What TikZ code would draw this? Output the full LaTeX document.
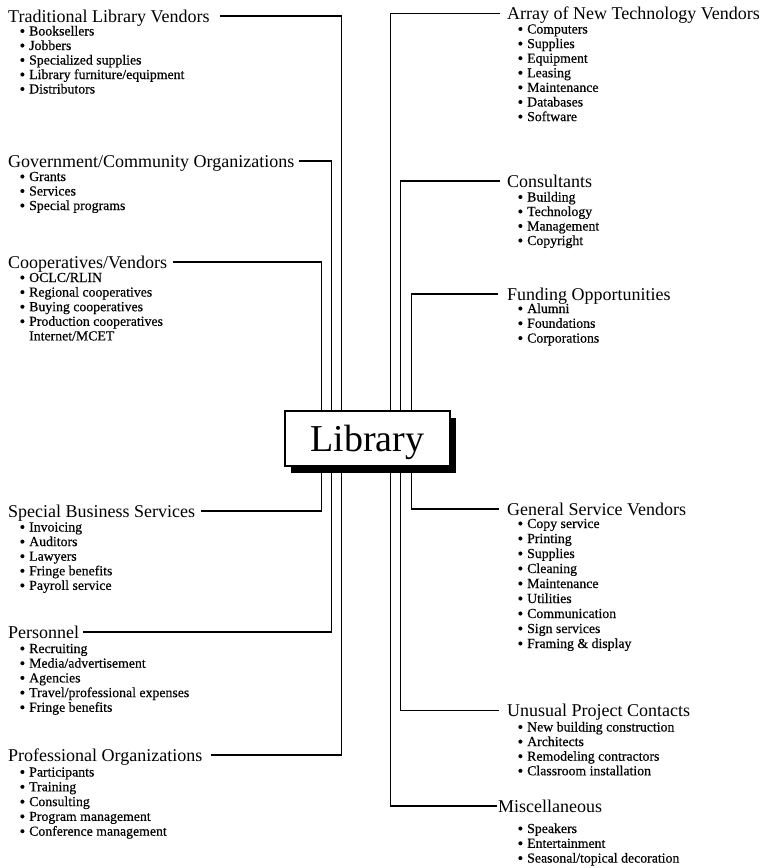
\documentclass[tikz,border=0pt]{standalone}
\usepackage{fontspec}
\setmainfont{Liberation Serif}
\newfontfamily\entryfont[FakeBold=0.45]{Liberation Serif}
\usetikzlibrary{shadows}

\newcommand\dotmark{\raisebox{-0.8pt}{\fontsize{16}{16}\selectfont\textbullet}}

\tikzset{
  cattitle/.style={font=\fontsize{18}{20}\selectfont, inner sep=0pt,
    text height=12pt, text depth=0pt, anchor=base west},
  entry/.style={font=\entryfont\fontsize{13.8}{15}\selectfont, inner sep=0pt, anchor=base west,
    execute at begin node={\llap{\dotmark\hskip4pt}}},
  plainentry/.style={font=\entryfont\fontsize{13.8}{15}\selectfont, inner sep=0pt, anchor=base west},
  link/.style={line width=1.1pt},
  hub/.style={draw, line width=1.2pt, fill=white, minimum width=165pt, minimum height=55pt,
    inner sep=0pt, text height=26pt, text depth=0pt, font=\fontsize{38}{40}\selectfont,
    drop shadow={shadow xshift=6pt, shadow yshift=-7pt, fill=black, opacity=1}}
}

% bulleted entries: name prefix, x, first baseline, line step, list
\newcommand\entries[5]{%
  \foreach \txt [count=\k] in {#5}
    \node[entry] (#1-\k) at (#2, {#3+(\k-1)*#4}) {\txt};
}

\begin{document}
\begin{tikzpicture}[x=1pt, y=-1pt]
\useasboundingbox (0,0) rectangle (777,868);

% central box
\node[hub] (lib) at (367.5,438.5) {Library};

% left-hand groups
\node[cattitle] (L1) at (8,22) {Traditional Library Vendors};
\entries{L1}{29}{35.5}{14.5}{Booksellers, Jobbers, Specialized supplies, Library furniture/equipment, Distributors}

\node[cattitle] (L2) at (8,167) {Government/Community Organizations};
\entries{L2}{29}{181}{14.5}{Grants, Services, Special programs}

\node[cattitle] (L3) at (8,268) {Cooperatives/Vendors};
\entries{L3}{29}{282}{14.6}{OCLC/RLIN, Regional cooperatives, Buying cooperatives, Production cooperatives}
\node[plainentry] (L3-5) at (29,340.4) {Internet/MCET};

\node[cattitle] (L4) at (8,517) {Special Business Services};
\entries{L4}{29}{531.5}{14.6}{Invoicing, Auditors, Lawyers, Fringe benefits, Payroll service}

\node[cattitle] (L5) at (8,638) {Personnel};
\entries{L5}{29}{653}{14.7}{Recruiting, Media/advertisement, Agencies, Travel/professional expenses, Fringe benefits}

\node[cattitle] (L6) at (8,761) {Professional Organizations};
\entries{L6}{29}{776.5}{14.8}{Participants, Training, Consulting, Program management, Conference management}

% right-hand groups
\node[cattitle] (R1) at (507,19.5) {Array of New Technology Vendors};
\entries{R1}{527}{33.5}{14.6}{Computers, Supplies, Equipment, Leasing, Maintenance, Databases, Software}

\node[cattitle] (R2) at (507,187) {Consultants};
\entries{R2}{527}{201.5}{14.5}{Building, Technology, Management, Copyright}

\node[cattitle] (R3) at (507,300) {Funding Opportunities};
\entries{R3}{527}{313}{14.8}{Alumni, Foundations, Corporations}

\node[cattitle] (R4) at (507,515) {General Service Vendors};
\entries{R4}{527}{528}{15}{Copy service, Printing, Supplies, Cleaning, Maintenance, Utilities, Communication, Sign services, Framing \& display}

\node[cattitle] (R5) at (507,716.5) {Unusual Project Contacts};
\entries{R5}{527}{731.5}{14.6}{New building construction, Architects, Remodeling contractors, Classroom installation}

\node[cattitle] (R6) at (498,812) {Miscellaneous};
\entries{R6}{527}{833}{14.8}{Speakers, Entertainment, Seasonal/topical decoration}

% connectors to the central box
\draw[link] ([xshift=10pt]L1.east) -| ([xshift=57pt]lib.north west);
\draw[link] ([xshift=4pt]L2.east)  -| ([xshift=47pt]lib.north west);
\draw[link] ([xshift=6pt]L3.east)  -| ([xshift=37pt]lib.north west);
\draw[link] ([xshift=6pt]L4.east)  -| ([xshift=37pt]lib.south west);
\draw[link] ([xshift=4pt]L5.east)  -| ([xshift=47pt]lib.south west);
\draw[link] ([xshift=8pt]L6.east)  -| ([xshift=57pt]lib.south west);

\draw[link] ([xshift=-7pt]R1.west) -| ([xshift=-60pt]lib.north east);
\draw[link] ([xshift=-7pt]R2.west) -| ([xshift=-50pt]lib.north east);
\draw[link] ([xshift=-9pt]R3.west) -| ([xshift=-39pt]lib.north east);
\draw[link] ([xshift=-8pt]R4.west) -| ([xshift=-39pt]lib.south east);
\draw[link] ([xshift=-8pt]R5.west) -| ([xshift=-50pt]lib.south east);
\draw[link] ([xshift=-1pt]R6.west) -| ([xshift=-60pt]lib.south east);
\end{tikzpicture}
\end{document}
